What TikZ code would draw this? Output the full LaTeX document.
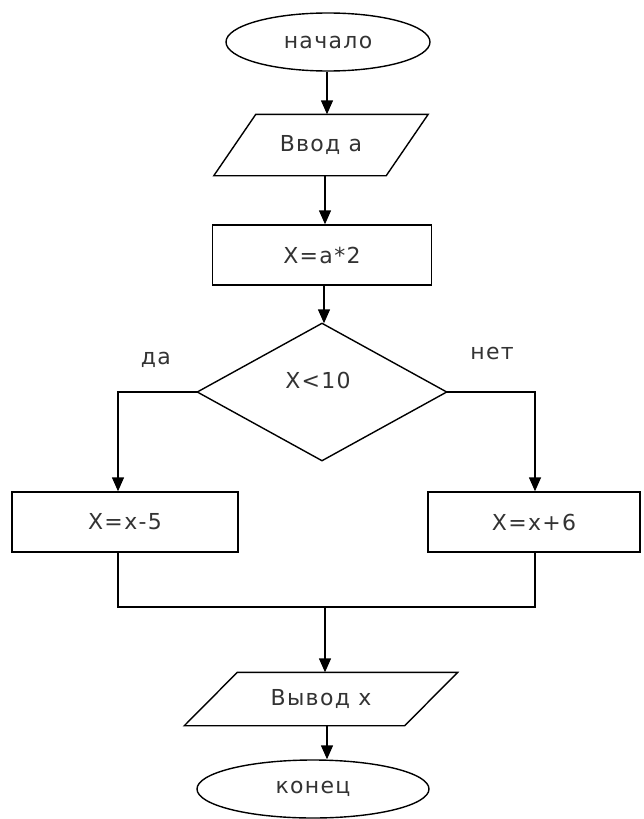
\documentclass[tikz,border=0pt]{standalone}
\usepackage{fontspec}
\setmainfont{DejaVu Sans}[LetterSpace=6]
\usetikzlibrary{arrows.meta,shapes.geometric,calc}
\begin{document}
\begin{tikzpicture}[x=1pt,y=-1pt,
  line width=1.4pt,
  every node/.style={font=\fontsize{22}{26}\selectfont, text=black!80},
  arr/.style={-{Triangle[width=12pt,length=14pt]}},
  term/.style={ellipse,draw,inner sep=0pt},
  box/.style={rectangle,draw,inner sep=0pt},
  ghost/.style={rectangle,inner sep=0pt}]
\useasboundingbox (0,0) rectangle (644,819);
\fill[white] (0,0) rectangle (644,819);
% nodes
\node[term,minimum width=204,minimum height=58] (start) at (328,42) {начало};
\node[ghost,minimum width=171,minimum height=60] (in) at (321,145) {Ввод а};
\draw ([xshift=21]in.north west) -- ([xshift=21]in.north east) -- ([xshift=-21]in.south east) -- ([xshift=-21]in.south west) -- cycle;
\node[box,minimum width=219,minimum height=60] (calc) at (322,255) {X=a*2};
\node[ghost,minimum width=248,minimum height=136] (dec) at (322,392) {};
\draw (dec.north) -- (dec.east) -- (dec.south) -- (dec.west) -- cycle;
\node (dect) at (318,380) {X<10};
\node (yes) at (156,360) {да};
\node (no) at (492,353) {нет};
\node[box,minimum width=226,minimum height=60] (L) at (125,522) {X=x-5};
\node[box,minimum width=212,minimum height=60] (R) at (534,522) {X=x+6};
\coordinate (jl) at (118,607);
\coordinate (jr) at (535,607);
\coordinate (j) at (325,607);
\node[ghost,minimum width=219,minimum height=52] (out) at (321,699) {Вывод х};
\draw ([xshift=26.5]out.north west) -- ([xshift=26.5]out.north east) -- ([xshift=-26.5]out.south east) -- ([xshift=-26.5]out.south west) -- cycle;
\node[term,minimum width=232,minimum height=58] (end) at (313,789) {конец};
% connectors
\draw[arr] (start.south -| 327,0) -- (327,0 |- in.north);
\draw[arr] (in.south -| 325,0) -- (325,0 |- calc.north);
\draw[arr] (calc.south -| 324,0) -- (324,0 |- dec.north);
\draw[arr] (dec.west) -| (118,0 |- L.north);
\draw[arr] (dec.east) -| (535,0 |- R.north);
\draw (118,0 |- L.south) -- (jl) -- (jr) -- (535,0 |- R.south);
\draw[arr] (j) -- (j |- out.north);
\draw[arr] (out.south -| 327,0) -- (327,0 |- end.north);
\end{tikzpicture}
\end{document}
